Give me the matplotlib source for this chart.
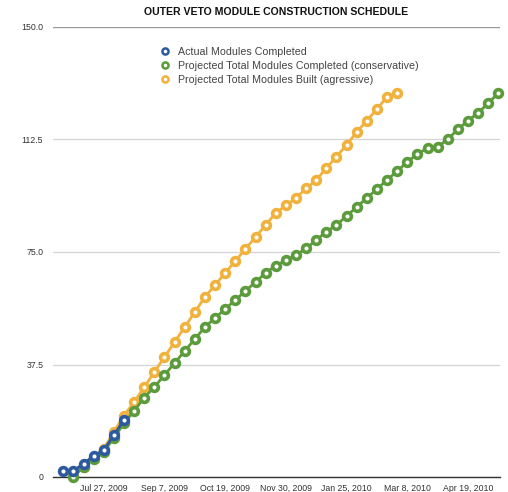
import numpy as np
import pandas as pd
import matplotlib
matplotlib.use('Agg')
import matplotlib.pyplot as plt
from matplotlib.lines import Line2D

plt.rcParams['font.family'] = ['Liberation Sans', 'DejaVu Sans']

# weekly categories; the two holiday weeks are not on the axis
skipped = [pd.Timestamp('2009-12-21'), pd.Timestamp('2009-12-28')]
weeks = [d for d in pd.date_range('2009-06-29', '2010-05-10', freq='7D') if d not in skipped]
week_labels = [f"{d:%b} {d.day}, {d.year}" for d in weeks]
label_weeks = [4, 10, 16, 22, 28, 34, 40]   # every 6th category gets a label

# values (first week index given for each series)
actual_start = 0
actual = [2, 2, 4.5, 7, 9, 14, 19]

conservative_start = 1
conservative = [0, 3.5, 6, 8.5, 13, 18, 22, 26.5, 30, 34, 38, 42, 46, 50, 53,
                56, 59, 62, 65, 68, 70.5, 72.2, 74, 76.2, 79, 81.8, 84, 87, 90,
                93, 96, 99, 102, 105, 107.7, 109.6, 110.1, 112.6, 115.9, 118.8,
                121.4, 124.6, 128]

aggressive_start = 1
aggressive = [0.5, 3.5, 6.5, 9.5, 15, 20.5, 25, 30, 35, 40, 45, 50, 55, 60, 64,
              68, 72, 76, 80, 84, 88, 90.5, 93, 96.2, 99, 103, 106.8, 110.7,
              115, 118.8, 122.6, 126.8, 128]

blue = '#2d5a9e'
green = '#5b9b3b'
orange = '#f0b23c'

fig = plt.figure(figsize=(5.08, 4.92), dpi=100)
ax = fig.add_axes([53 / 508, 15 / 492, 447 / 508, 450 / 492])

series = [
    (aggressive_start, aggressive, orange, 2),
    (conservative_start, conservative, green, 3),
    (actual_start, actual, blue, 4),
]
for start, vals, col, z in series:
    x = np.arange(start, start + len(vals))
    ax.plot(x, vals, color=col, lw=2.0, marker='o', ms=5.6, mew=2.6,
            mfc='white', mec=col, zorder=z, clip_on=False)

ax.set_xlim(-1.02, 43.16)
ax.set_ylim(0, 150)

ax.set_yticks([0, 37.5, 75, 112.5, 150])
ax.set_yticklabels(['0', '37.5', '75.0', '112.5', '150.0'])
ax.set_xticks(label_weeks)
ax.set_xticklabels([week_labels[i] for i in label_weeks])
ax.tick_params(axis='both', length=0, labelsize=6.3, labelcolor='#333333')
ax.tick_params(axis='y', pad=7)
ax.tick_params(axis='x', pad=5)

ax.yaxis.grid(True, color='#d4d4d4', lw=0.9)
ax.set_axisbelow(True)
for s in ['top', 'left', 'right']:
    ax.spines[s].set_visible(False)
ax.spines['bottom'].set_color('#333333')
ax.spines['bottom'].set_linewidth(1.0)
ax.axhline(150, color='#999999', lw=0.9, zorder=1)

fig.text(276 / 508, 1 - 12 / 492, 'OUTER VETO MODULE CONSTRUCTION SCHEDULE',
         ha='center', va='center', fontsize=7.6, weight='bold', color='#111111')

handles = [Line2D([], [], ls='none', marker='o', ms=4.4, mew=1.8, mfc='white', mec=c)
           for c in (blue, green, orange)]
labels = ['Actual Modules Completed',
          'Projected Total Modules Completed (conservative)',
          'Projected Total Modules Built (agressive)']
leg = fig.legend(handles, labels, loc='upper left',
                 bbox_to_anchor=(160.7 / 508, 1 - 47 / 492),
                 frameon=False, fontsize=7.7, handlelength=0.8,
                 handletextpad=0.8, borderpad=0, borderaxespad=0,
                 labelspacing=0.38)
for t in leg.get_texts():
    t.set_color('#444444')

fig.savefig('out.png', dpi=100)
